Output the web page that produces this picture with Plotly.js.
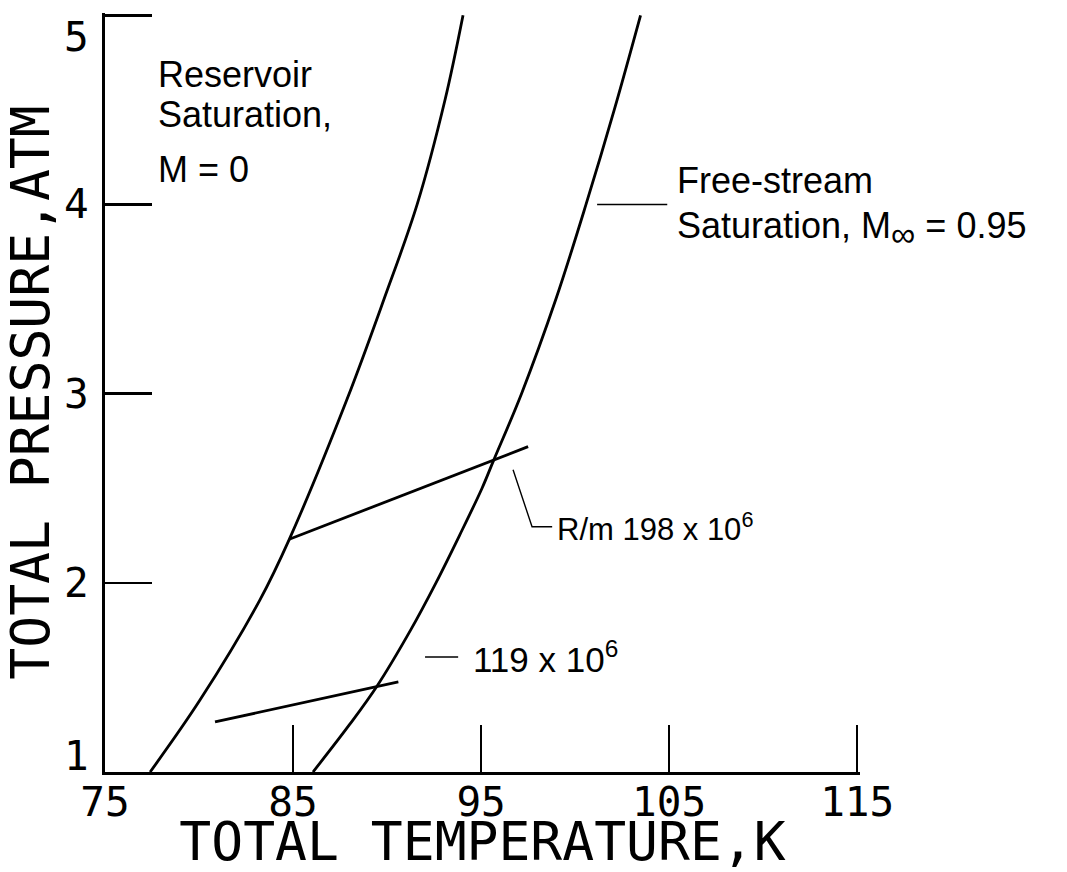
<!DOCTYPE html>
<html><head><meta charset="utf-8">
<script src="https://cdn.plot.ly/plotly-3.0.1.min.js"></script>
<style>html,body{margin:0;padding:0;background:#fff}</style>
</head><body><div id="chart" style="width:1067px;height:872px"></div>
<script>
// Axis ticks
const xTickVals = [75, 85, 95, 105, 115];
const yTickVals = [1, 2, 3, 4, 5];

// Reservoir saturation, M = 0 (total temperature K, total pressure atm)
const reservoirT = [77.4, 80.05, 83.24, 84.8, 87.87, 89.84, 91.6, 93.09, 94.04];
const reservoirP = [1.0, 1.38, 1.91, 2.23, 2.97, 3.5, 4.0, 4.556, 5.0];

// Free-stream saturation, M_inf = 0.95
const freeT = [86.06, 88.0, 89.47, 91.25, 92.6, 93.85, 95.05, 95.66, 97.15, 98.98, 100.58, 102.08, 103.48];
const freeP = [1.0, 1.25, 1.455, 1.75, 2.0, 2.25, 2.5, 2.646, 3.0, 3.5, 4.0, 4.5, 5.0];

// Constant unit Reynolds number lines
const re198T = [84.8, 95.64, 97.5];
const re198P = [2.23, 2.648, 2.72];
const re119T = [80.85, 85.4, 89.47, 90.6];
const re119P = [1.265, 1.365, 1.455, 1.476];

// Leader lines for labels
const leaderFreeT = [101.17, 104.9];
const leaderFreeP = [4.0, 4.0];
const leader198T = [96.7, 97.71, 98.78];
const leader198P = [2.598, 2.296, 2.296];
const leader119T = [92.02, 93.78];
const leader119P = [1.608, 1.608];

// Labels
const labelReservoir = ["Reservoir", "Saturation,", "M = 0"];
const labelFree = ["Free-stream", "Saturation, M<sub><span style='font-size:34px'>∞</span></sub> = 0.95"];
const label198 = "R/m 198 x 10<sup>6</sup>";
const label119 = "119 x 10<sup>6</sup>";
const xTitle = "TOTAL TEMPERATURE,K";
const yTitle = "TOTAL PRESSURE,ATM";

const black = "#000";
const curveLine = {color: black, width: 2.8, shape: "spline", smoothing: 1.0};
const straightLine = {color: black, width: 2.8};
const leaderLine = {color: black, width: 1.4};

const traces = [
  {x: reservoirT, y: reservoirP, mode: "lines", line: curveLine, name: "Reservoir saturation"},
  {x: freeT, y: freeP, mode: "lines", line: curveLine, name: "Free-stream saturation"},
  {x: re198T, y: re198P, mode: "lines", line: straightLine, name: "198e6"},
  {x: re119T, y: re119P, mode: "lines", line: straightLine, name: "119e6"},
  {x: leaderFreeT, y: leaderFreeP, mode: "lines", line: leaderLine},
  {x: leader198T, y: leader198P, mode: "lines", line: leaderLine},
  {x: leader119T, y: leader119P, mode: "lines", line: leaderLine}
];

const txtFamily = "Liberation Sans, Arial, sans-serif";
const txtFont = {family: txtFamily, size: 36, color: black};
const monoFont = "DejaVu Sans Mono, monospace";

function ann(x, y, text, font) {
  return {x: x, y: y, xref: "x", yref: "y", text: text, showarrow: false,
          xanchor: "left", yanchor: "middle", font: font, borderpad: 0};
}

const annotations = [
  ann(77.75, 4.688, labelReservoir[0], txtFont),
  ann(77.75, 4.476, labelReservoir[1], txtFont),
  ann(77.75, 4.185, labelReservoir[2], txtFont),
  ann(105.35, 4.127, labelFree[0], txtFont),
  ann(105.35, 3.868, labelFree[1], txtFont),
  ann(99.0, 2.296, label198, {family: txtFamily, size: 31, color: black}),
  ann(94.5, 1.608, label119, {family: txtFamily, size: 35, color: black})
];

// y-axis tick labels, nudged inward at the two ends as in the original plot
yTickVals.forEach(function (v, i) {
  const shift = (i === 0) ? 16 : (i === yTickVals.length - 1 ? -22 : 0);
  annotations.push({
    x: 0, xref: "paper", y: v, yref: "y", text: String(v), showarrow: false,
    xanchor: "right", yanchor: "middle", xshift: -15, yshift: shift,
    font: {family: monoFont, size: 41, color: black}, borderpad: 0
  });
});

const layout = {
  width: 1067, height: 872,
  margin: {l: 105, r: 207, t: 13, b: 100, pad: 0},
  paper_bgcolor: "#fff", plot_bgcolor: "#fff",
  showlegend: false,
  xaxis: {
    range: [75, 115.15], tickvals: xTickVals, ticktext: xTickVals.map(String),
    ticks: "inside", ticklen: 47, tickwidth: 2.5, tickcolor: black,
    showline: true, linewidth: 3, linecolor: black,
    showgrid: false, zeroline: false,
    tickfont: {family: monoFont, size: 41, color: black},
    ticklabelstandoff: -8, ticklabeloverflow: "allow",
    title: {text: xTitle, font: {family: monoFont, size: 53, color: black}, standoff: 14}
  },
  yaxis: {
    range: [1, 5.012], tickvals: yTickVals,
    ticks: "inside", ticklen: 47, tickwidth: 2.5, tickcolor: black,
    showline: true, linewidth: 3, linecolor: black,
    showgrid: false, zeroline: false, showticklabels: false,
    title: {text: yTitle, font: {family: monoFont, size: 53, color: black}, standoff: 46}
  },
  annotations: annotations
};

Plotly.newPlot("chart", traces, layout, {displayModeBar: false, staticPlot: true});
</script>
</body></html>
